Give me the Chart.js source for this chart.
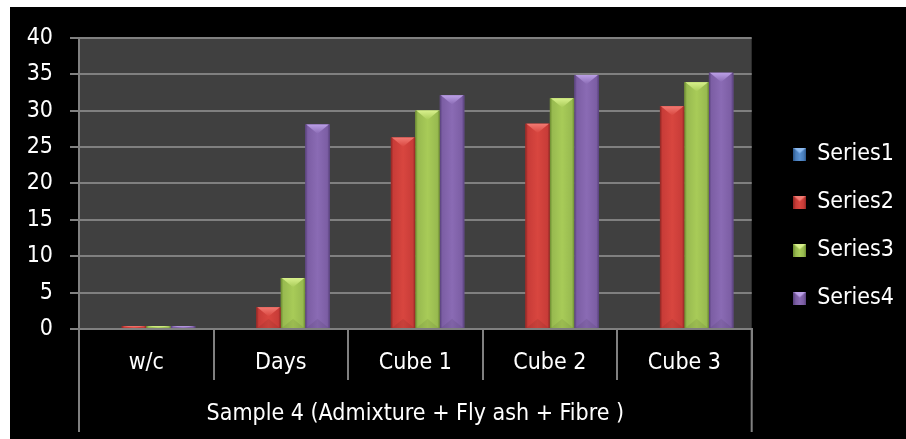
<!DOCTYPE html>
<html><head><meta charset="utf-8">
<script src="https://cdn.jsdelivr.net/npm/chart.js@4.4.1/dist/chart.umd.min.js"></script>
<style>
html,body{margin:0;padding:0;background:#fff;width:906px;height:439px;overflow:hidden;}
#wrap{position:absolute;left:10px;top:7px;width:896px;height:432px;background:#000;}
canvas{display:block;}
</style></head><body>
<div id="wrap"><canvas id="c" width="896" height="432"></canvas></div>
<script>
// ---- data ----
const categories = ['w/c', 'Days', 'Cube 1', 'Cube 2', 'Cube 3'];
const groupLabel = 'Sample 4 (Admixture + Fly ash + Fibre )';
const seriesNames = ['Series1', 'Series2', 'Series3', 'Series4'];
const series1 = [0, 0, 0, 0, 0];
const series2 = [0.4, 3, 26.3, 28.2, 30.6];
const series3 = [0.4, 7, 30, 31.7, 33.9];
const series4 = [0.4, 28.1, 32.1, 34.9, 35.2];
const yMin = 0, yMax = 40, yStep = 5;

// ---- styles ----
const FONT = "'DejaVu Sans Condensed', 'DejaVu Sans', sans-serif";
const FS = 23;
const palettes = [
  {base:'#4A7EBB', center:'#5A92D2', light:'#8DBBF0', dark:'#2A5587'},
  {base:'#C83C38', center:'#D8463F', light:'#F27A72', dark:'#8E2522'},
  {base:'#98BA50', center:'#A8CB58', light:'#D8F08C', dark:'#6A8A2E'},
  {base:'#7C5EA4', center:'#8A6BB4', light:'#BBA0E6', dark:'#563F7A'}
];

function makeIcon(p){
  const s = 13, cv = document.createElement('canvas');
  cv.width = s; cv.height = s;
  const g = cv.getContext('2d');
  const gr = g.createLinearGradient(0,0,s,0);
  gr.addColorStop(0,p.dark); gr.addColorStop(0.2,p.base); gr.addColorStop(0.5,p.center);
  gr.addColorStop(0.8,p.base); gr.addColorStop(1,p.dark);
  g.fillStyle = gr; g.fillRect(0,0,s,s);
  g.fillStyle = p.light;
  g.beginPath(); g.moveTo(0,0); g.lineTo(s,0); g.lineTo(s/2,s*0.45); g.closePath(); g.fill();
  return cv;
}
const icons = palettes.map(makeIcon);

const bevelPlugin = {
  id: 'bevel',
  beforeDraw(chart){
    const {ctx, chartArea:a} = chart;
    ctx.save(); ctx.fillStyle = '#404040';
    ctx.fillRect(a.left, a.top, a.right - a.left, a.bottom - a.top);
    ctx.restore();
  },
  afterDatasetsDraw(chart){
    const ctx = chart.ctx;
    chart.data.datasets.forEach((ds, di) => {
      const meta = chart.getDatasetMeta(di);
      const p = palettes[di];
      meta.data.forEach(bar => {
        const {x, y, base, width} = bar.getProps(['x','y','base','width'], true);
        const h = base - y;
        if (h <= 0.5) return;
        const l = x - width/2, r = x + width/2;
        ctx.save();
        const gr = ctx.createLinearGradient(l,0,r,0);
        gr.addColorStop(0,p.dark); gr.addColorStop(0.1,p.base); gr.addColorStop(0.5,p.center);
        gr.addColorStop(0.9,p.base); gr.addColorStop(1,p.dark);
        ctx.fillStyle = gr;
        ctx.fillRect(l, y, width, h);
        const th = Math.min(width*0.38, h);
        const tg = ctx.createLinearGradient(0,y,0,y+th);
        tg.addColorStop(0,p.light); tg.addColorStop(1,p.center);
        ctx.fillStyle = tg;
        ctx.beginPath(); ctx.moveTo(l+1,y); ctx.lineTo(r-1,y); ctx.lineTo(x,y+th); ctx.closePath(); ctx.fill();
        if (h > th*2) {
          ctx.fillStyle = 'rgba(0,0,0,0.07)';
          ctx.beginPath(); ctx.moveTo(l+1,base); ctx.lineTo(r-1,base); ctx.lineTo(x,base-th); ctx.closePath(); ctx.fill();
        }
        ctx.restore();
      });
    });
  },
  afterDraw(chart){
    const {ctx, chartArea:a} = chart;
    ctx.save(); ctx.strokeStyle = '#808080'; ctx.lineWidth = 2;
    [a.left, a.right].forEach(px => {
      ctx.beginPath(); ctx.moveTo(px, a.bottom); ctx.lineTo(px, 425); ctx.stroke();
    });
    ctx.restore();
  }
};

const seriesData = [series1, series2, series3, series4];
new Chart(document.getElementById('c'), {
  type: 'bar',
  data: {
    labels: categories,
    datasets: seriesNames.map((n, i) => ({
      label: n, data: seriesData[i],
      backgroundColor: palettes[i].base, borderWidth: 0,
      categoryPercentage: 0.728, barPercentage: 1
    }))
  },
  options: {
    responsive: false, animation: false, devicePixelRatio: 1,
    layout: {padding: {right: 2}},
    plugins: {
      tooltip: {enabled: false},
      legend: {
        position: 'right', align: 'center',
        title: {display: true, text: '', font: {size: 5}, padding: 0},
        labels: {
          color: '#fff', font: {family: FONT, size: FS},
          usePointStyle: true, boxWidth: 12, boxHeight: 14, padding: 25,
          generateLabels: (chart) => chart.data.datasets.map((ds, i) => ({
            text: ds.label, fillStyle: ds.backgroundColor, strokeStyle: ds.backgroundColor,
            lineWidth: 0, pointStyle: icons[i], hidden: false, datasetIndex: i, fontColor: '#fff'
          }))
        }
      }
    },
    scales: {
      x: {
        offset: true,
        grid: {offset: true, drawOnChartArea: false, drawTicks: true, tickLength: 51, color: '#808080', lineWidth: 2},
        border: {color: '#808080', width: 2},
        ticks: {color: '#fff', font: {family: FONT, size: FS}, padding: -31, maxRotation: 0, autoSkip: false},
        title: {display: true, text: groupLabel, color: '#fff', font: {family: FONT, size: FS}, padding: {top: 0, bottom: 11}},
        afterFit(s){ s.height = 110; }
      },
      y: {
        min: yMin, max: yMax,
        grid: {color: '#808080', lineWidth: 2, tickLength: 9},
        border: {color: '#808080', width: 2},
        ticks: {stepSize: yStep, color: '#fff', font: {family: FONT, size: FS}, padding: 17},
        afterFit(s){ s.width = 69; }
      },
      gap: {
        position: 'right', display: true, grid: {display: false}, border: {display: false},
        ticks: {display: false},
        afterFit(s){ s.width = 17; }
      }
    }
  },
  plugins: [bevelPlugin]
});
</script>
</body></html>
